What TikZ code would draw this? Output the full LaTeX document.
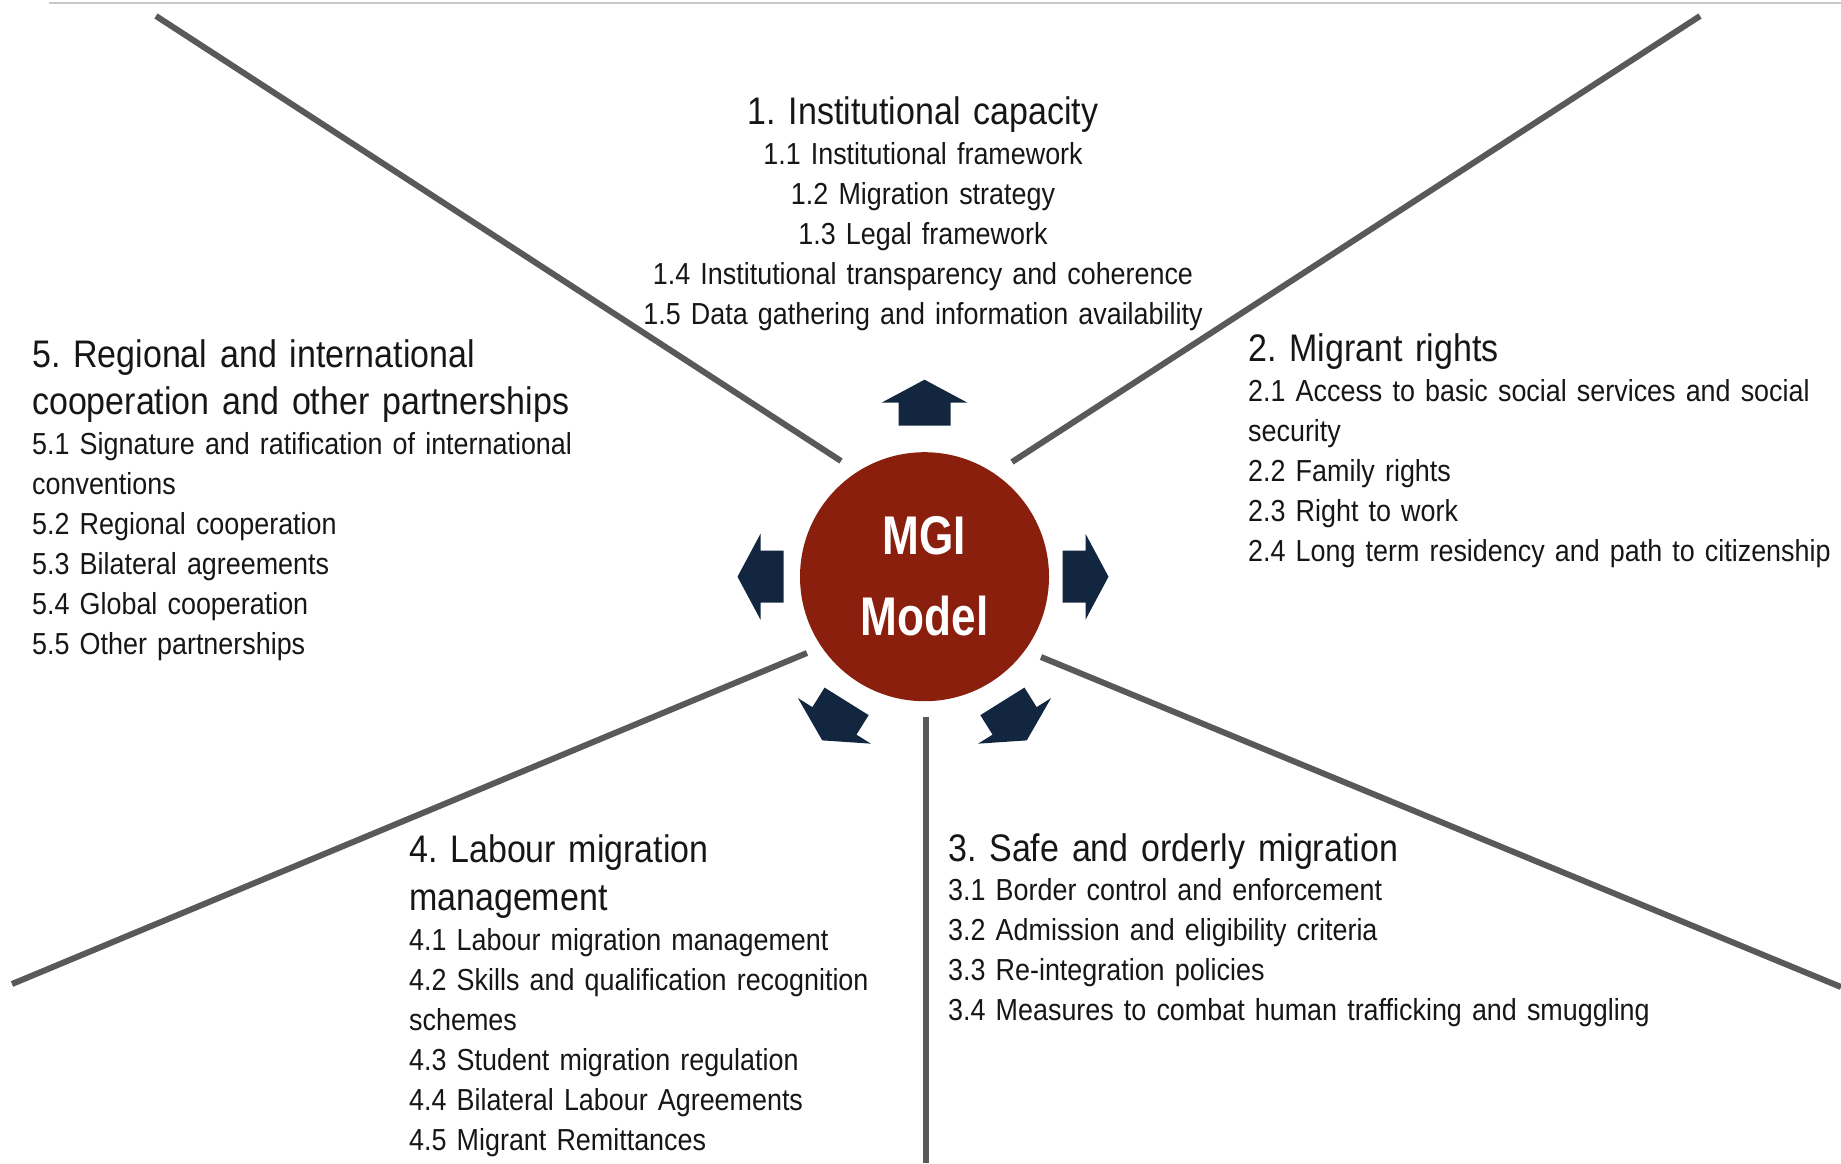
\documentclass[tikz,border=0pt]{standalone}
\usepackage{fontspec}
\setmainfont{Liberation Sans}
\newfontfamily\mgitext{Liberation Sans}[FakeStretch=0.885]
\newfontfamily\mgicore{Liberation Sans}[FakeStretch=0.81]
\frenchspacing

\definecolor{mgired}{RGB}{138,31,14}
\definecolor{navy}{RGB}{18,38,63}
\definecolor{spokegrey}{RGB}{89,89,89}
\definecolor{topgrey}{RGB}{200,200,200}
\definecolor{inktext}{RGB}{22,22,22}

\begin{document}
\begin{tikzpicture}
[
    x=1pt, y=1pt,
    spoke/.style={draw=spokegrey, line width=6pt},
    headtext/.style={font=\mgitext\fontsize{38.4}{47.5}\selectfont, text=inktext, inner sep=0pt, text width=800pt},
    itemtext/.style={font=\mgitext\fontsize{30.4}{40}\selectfont, text=inktext, inner sep=0pt, text width=800pt},
]
\useasboundingbox (0,0) rectangle (1841,-1163);
\draw[topgrey, line width=2pt] (49,-3) -- (1841,-3);

\coordinate (ulOut) at (156,-16);
\coordinate (ulIn) at (841,-461);
\coordinate (urOut) at (1700,-16);
\coordinate (urIn) at (1012,-462);
\coordinate (llOut) at (12,-984);
\coordinate (llIn) at (807,-653);
\coordinate (lrOut) at (1841,-987);
\coordinate (lrIn) at (1041,-657);
\coordinate (btOut) at (926,-1163);
\coordinate (btIn) at (926,-717);
\draw[spoke] (ulOut) -- (ulIn);
\draw[spoke] (urOut) -- (urIn);
\draw[spoke] (llOut) -- (llIn);
\draw[spoke] (lrOut) -- (lrIn);
\draw[spoke] (btOut) -- (btIn);

\node[circle, fill=mgired, minimum size=249pt, inner sep=0pt, text=white, align=center,
      font=\mgicore\bfseries\fontsize{54.5}{81}\selectfont] (mgi) at (924.5,-576.7) {MGI\\Model};

\foreach \ang/\dist in {90/174, 0/161, 180/164, -122/170, -58/170}
    \fill[navy, shift={(mgi.center)}, rotate=\ang]
        ({\dist-23},-26) -- (\dist,-26) -- (\dist,-43) -- ({\dist+23},0)
        -- (\dist,43) -- (\dist,26) -- ({\dist-23},26) -- cycle;

\node[headtext, align=center, anchor=base] (instHead) at (923,-124) {1. Institutional capacity};
\node[itemtext, align=center, anchor=base] (instItems) at (923,-164.6)
{1.1 Institutional framework\\
1.2 Migration strategy\\
1.3 Legal framework\\
1.4 Institutional transparency and coherence\\
1.5 Data gathering and information availability};

\node[headtext, align=left, anchor=base west] (rightsHead) at (1248,-361.4) {2. Migrant rights};
\node[itemtext, align=left, anchor=base west] (rightsItems) at (1248,-401.8)
{2.1 Access to basic social services and social\\
security\\
2.2 Family rights\\
2.3 Right to work\\
2.4 Long term residency and path to citizenship};

\node[headtext, align=left, anchor=base west] (safeHead) at (948,-861.5) {3. Safe and orderly migration};
\node[itemtext, align=left, anchor=base west] (safeItems) at (948,-900.8)
{3.1 Border control and enforcement\\
3.2 Admission and eligibility criteria\\
3.3 Re-integration policies\\
3.4 Measures to combat human trafficking and smuggling};

\node[headtext, align=left, anchor=base west] (labourHead) at (409,-862.7)
{4. Labour migration\\
management};
\node[itemtext, align=left, anchor=base west] (labourItems) at (409,-950)
{4.1 Labour migration management\\
4.2 Skills and qualification recognition\\
schemes\\
4.3 Student migration regulation\\
4.4 Bilateral Labour Agreements\\
4.5 Migrant Remittances};

\node[headtext, align=left, anchor=base west] (coopHead) at (32,-367.2)
{5. Regional and international\\
cooperation and other partnerships};
\node[itemtext, align=left, anchor=base west] (coopItems) at (32,-454.6)
{5.1 Signature and ratification of international\\
conventions\\
5.2 Regional cooperation\\
5.3 Bilateral agreements\\
5.4 Global cooperation\\
5.5 Other partnerships};
\end{tikzpicture}
\end{document}
